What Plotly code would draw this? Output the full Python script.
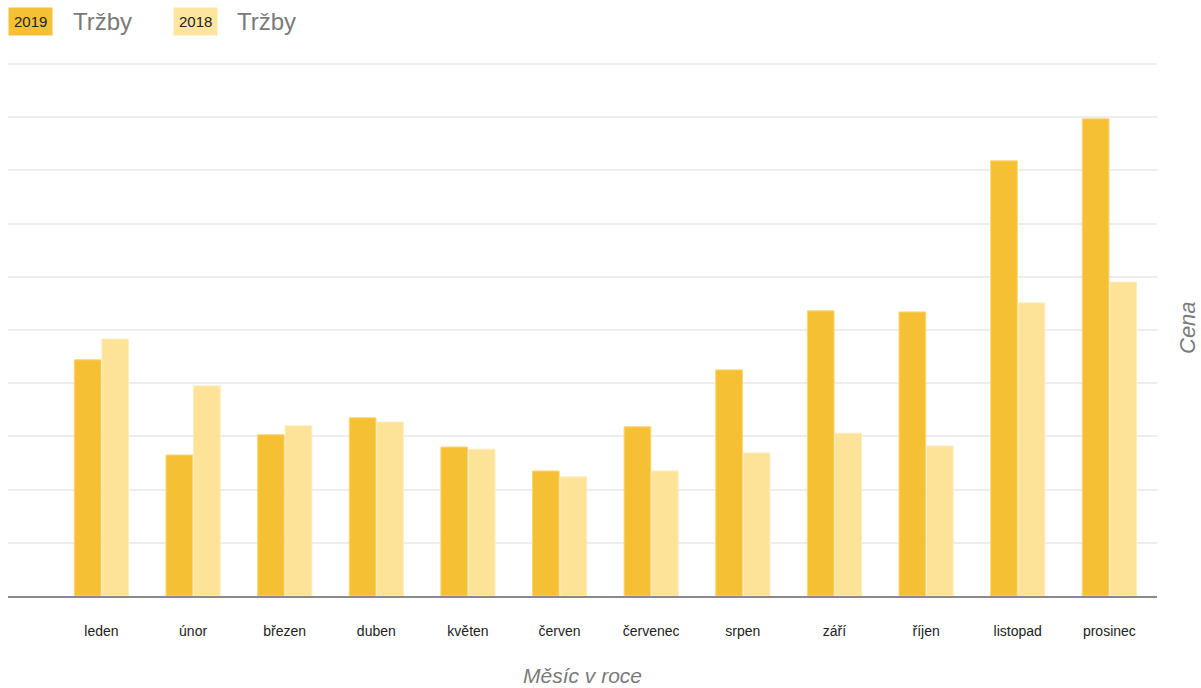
import plotly.graph_objects as go

months = ["leden", "únor", "březen", "duben", "květen", "červen",
          "červenec", "srpen", "září", "říjen", "listopad", "prosinec"]
sales_2019 = [44.4, 26.5, 30.3, 33.5, 28.0, 23.5, 31.8, 42.5, 53.6, 53.4, 81.8, 89.7]
sales_2018 = [48.3, 39.5, 32.0, 32.7, 27.6, 22.4, 23.5, 26.9, 30.6, 28.2, 55.1, 59.0]
series_names = ["2019", "2018"]
metric_label = "Tržby"
x_title = "Měsíc v roce"
y_title = "Cena"

c2019 = "#F6C035"
c2018 = "#FCE398"

fig = go.Figure()
fig.add_trace(go.Bar(x=months, y=sales_2019, name=series_names[0],
                     marker=dict(color=c2019, line=dict(color="#FAD76E", width=1))))
fig.add_trace(go.Bar(x=months, y=sales_2018, name=series_names[1],
                     marker=dict(color=c2018, line=dict(color="#FEEDBE", width=1))))

font_main = "Arial, Liberation Sans, Helvetica, sans-serif"

fig.update_layout(
    width=1201, height=688,
    margin=dict(l=8, r=44, t=60, b=92),
    paper_bgcolor="white", plot_bgcolor="white",
    barmode="group", bargap=0.40, bargroupgap=0.03,
    showlegend=False,
    font=dict(family=font_main, color="#222"),
    xaxis=dict(
        type="category", range=[-1.02, 11.52],
        showgrid=False, showline=True, linecolor="#8a8a8a", linewidth=2,
        ticks="outside", ticklen=21, tickcolor="rgba(0,0,0,0)",
        tickfont=dict(size=14, color="#222", family=font_main),
        fixedrange=True,
    ),
    yaxis=dict(
        range=[0, 100.75], dtick=10, showticklabels=False,
        showgrid=True, gridcolor="#ededed", gridwidth=1.5,
        zeroline=False, fixedrange=True,
    ),
)

annotations = [
    dict(text="<i>" + x_title + "</i>", xref="paper", yref="paper", x=0.5, y=0, yshift=-79,
         xanchor="center", yanchor="middle", showarrow=False,
         font=dict(size=21, color="#7a7a7a", family=font_main)),
    dict(text="<i>" + y_title + "</i>", xref="paper", yref="paper", x=1, y=0.5, xshift=30,
         xanchor="center", yanchor="middle", showarrow=False, textangle=-90,
         font=dict(size=22, color="#7a7a7a", family=font_main)),
]

# legend-like header
legend_items = [(series_names[0], c2019, 8, 71), (series_names[1], "#FDE5A0", 173, 235)]
for name, col, bx, tx in legend_items:
    annotations.append(dict(
        text=name, xref="paper", yref="paper", x=0, y=1,
        xshift=bx - 8, yshift=39, xanchor="left", yanchor="middle",
        showarrow=False, bgcolor=col, borderpad=5,
        font=dict(size=15, color="#222", family=font_main)))
    annotations.append(dict(
        text=metric_label, xref="paper", yref="paper", x=0, y=1,
        xshift=tx - 8, yshift=39, xanchor="left", yanchor="middle",
        showarrow=False,
        font=dict(size=24, color="#7a7a7a", family=font_main)))

fig.update_layout(annotations=annotations)

fig.write_html("out.html")
